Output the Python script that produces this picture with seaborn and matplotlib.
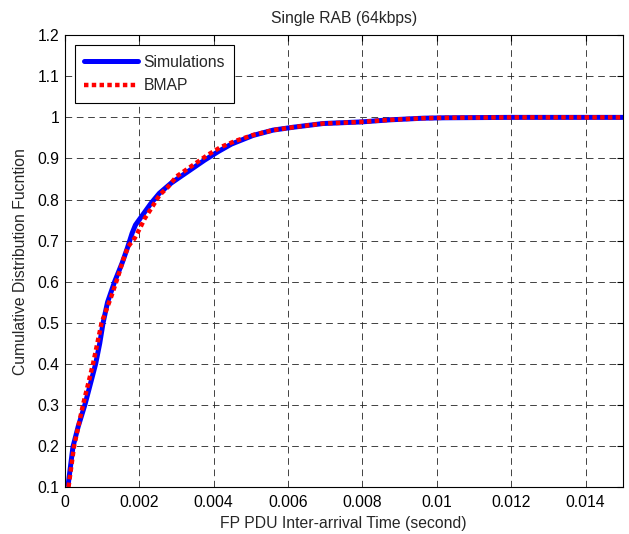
import matplotlib
matplotlib.use("Agg")
import matplotlib.pyplot as plt
import seaborn as sns
import pandas as pd
import numpy as np

# CDF points (x in seconds)
sim_x = [0.00009, 0.00022, 0.00036, 0.00054, 0.0007, 0.00083, 0.00094, 0.00103, 0.00115,
         0.00134, 0.00154, 0.00168, 0.00181, 0.0019, 0.00209, 0.00232, 0.00254, 0.00286,
         0.00331, 0.00376, 0.00413, 0.00448, 0.00506, 0.0056, 0.00614, 0.00694, 0.00798,
         0.00874, 0.00963, 0.0102, 0.012, 0.015]
sim_y = [0.105, 0.198, 0.247, 0.30, 0.355, 0.40, 0.45, 0.50, 0.55,
         0.60, 0.645, 0.681, 0.718, 0.738, 0.762, 0.791, 0.815, 0.84,
         0.868, 0.896, 0.917, 0.935, 0.956, 0.969, 0.976, 0.985, 0.989,
         0.994, 0.998, 0.999, 1.0, 1.0]

bmap_x = [0.0001, 0.00025, 0.00049, 0.00076, 0.00099, 0.00125, 0.00143, 0.00157, 0.0017,
          0.00188, 0.00202, 0.00215, 0.00233, 0.00255, 0.00278, 0.003, 0.00345, 0.00385,
          0.0042, 0.0046, 0.00506, 0.0056, 0.00614, 0.00694, 0.00798, 0.00874, 0.00963,
          0.0102, 0.012, 0.015]
bmap_y = [0.1, 0.2, 0.3, 0.4, 0.5, 0.564, 0.612, 0.653, 0.685,
          0.706, 0.73, 0.754, 0.779, 0.811, 0.831, 0.856, 0.884, 0.909,
          0.928, 0.943, 0.957, 0.969, 0.976, 0.985, 0.989, 0.994, 0.998,
          0.999, 1.0, 1.0]

x_ticks = [0, 0.002, 0.004, 0.006, 0.008, 0.01, 0.012, 0.014]
x_labels = ["0", "0.002", "0.004", "0.006", "0.008", "0.01", "0.012", "0.014"]
y_ticks = [0.1, 0.2, 0.3, 0.4, 0.5, 0.6, 0.7, 0.8, 0.9, 1.0, 1.1, 1.2]
y_labels = ["0.1", "0.2", "0.3", "0.4", "0.5", "0.6", "0.7", "0.8", "0.9", "1", "1.1", "1.2"]

sns.set_style("white")
plt.rcParams["font.family"] = ["Liberation Sans", "DejaVu Sans"]
fs = 11.3

fig = plt.figure(figsize=(6.29, 5.34), dpi=100)
ax = fig.add_axes([0.103, 0.088, 0.887, 0.846])

sns.lineplot(x=sim_x, y=sim_y, ax=ax, color="#0000ff", lw=3.6, sort=False,
             estimator=None, label="Simulations")
sns.lineplot(x=bmap_x, y=bmap_y, ax=ax, color="#ff0000", lw=3.2, sort=False,
             estimator=None, label="BMAP", linestyle=(0, (1, 0.75)))

ax.set_xlim(0, 0.015)
ax.set_ylim(0.1, 1.2)
ax.set_xticks(x_ticks)
ax.set_xticklabels(x_labels)
ax.set_yticks(y_ticks)
ax.set_yticklabels(y_labels)
ax.tick_params(axis="x", pad=6)
ax.tick_params(axis="y", pad=4)
ax.tick_params(direction="in", top=True, right=True, length=4, labelsize=fs,
               colors="black")

ax.grid(True, color="#222222", linestyle=(0, (8, 5.6)), linewidth=0.6)
for s in ax.spines.values():
    s.set_color("black")
    s.set_linewidth(0.8)

ax.set_title("Single RAB (64kbps)", fontsize=fs, pad=9)
ax.set_xlabel("FP PDU Inter-arrival Time (second)", fontsize=fs, labelpad=4)
ax.set_ylabel("Cumulative Distribution Fucntion", fontsize=fs, labelpad=7)

leg = ax.legend(loc="upper left", fontsize=fs, handlelength=3.4, handletextpad=0.35,
                frameon=True, fancybox=False, edgecolor="black", framealpha=1,
                borderaxespad=0.65, borderpad=0.6, labelspacing=0.55)
leg.get_frame().set_linewidth(0.8)

fig.savefig("out.png", dpi=100)
